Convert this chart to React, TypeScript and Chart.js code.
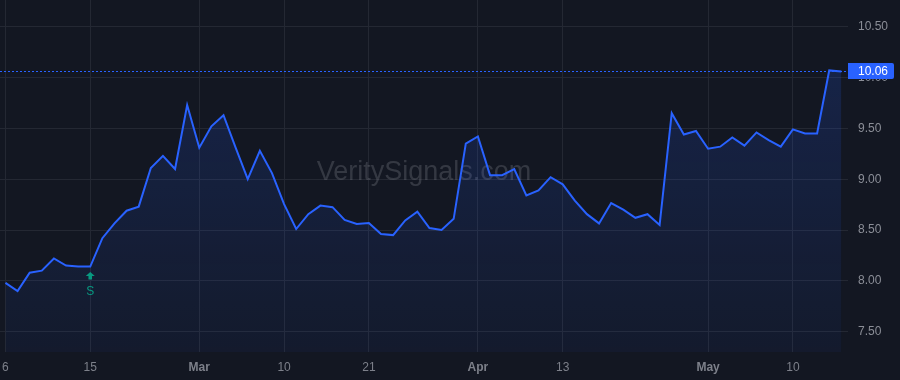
import React, { useEffect, useRef } from 'react';
import { Chart, registerables } from 'chart.js';

Chart.register(...registerables);

// Trading days (2023-02-06 .. 2023-05-16)
const dates = [
  '2023-02-06', '2023-02-07', '2023-02-08', '2023-02-09', '2023-02-10', '2023-02-13', '2023-02-14', '2023-02-15',
  '2023-02-16', '2023-02-17', '2023-02-21', '2023-02-22', '2023-02-23', '2023-02-24', '2023-02-27', '2023-02-28',
  '2023-03-01', '2023-03-02', '2023-03-03', '2023-03-06', '2023-03-07', '2023-03-08', '2023-03-09', '2023-03-10',
  '2023-03-13', '2023-03-14', '2023-03-15', '2023-03-16', '2023-03-17', '2023-03-20', '2023-03-21', '2023-03-22',
  '2023-03-23', '2023-03-24', '2023-03-27', '2023-03-28', '2023-03-29', '2023-03-30', '2023-03-31',
  '2023-04-03', '2023-04-04', '2023-04-05', '2023-04-06', '2023-04-10', '2023-04-11', '2023-04-12', '2023-04-13',
  '2023-04-14', '2023-04-17', '2023-04-18', '2023-04-19', '2023-04-20', '2023-04-21', '2023-04-24', '2023-04-25',
  '2023-04-26', '2023-04-27', '2023-04-28',
  '2023-05-01', '2023-05-02', '2023-05-03', '2023-05-04', '2023-05-05', '2023-05-08', '2023-05-09', '2023-05-10',
  '2023-05-11', '2023-05-12', '2023-05-15', '2023-05-16',
];

const prices = [
  7.98, 7.9, 8.08, 8.1, 8.22, 8.15, 8.14, 8.14, 8.42, 8.565,
  8.69, 8.73, 9.11, 9.23, 9.1, 9.73, 9.31, 9.52, 9.63, 9.31,
  9.0, 9.28, 9.06, 8.755, 8.51, 8.656, 8.74, 8.725, 8.6, 8.56,
  8.57, 8.46, 8.45, 8.595, 8.68, 8.52, 8.5, 8.61, 9.35, 9.42,
  9.04, 9.04, 9.1, 8.84, 8.89, 9.02, 8.95, 8.79, 8.656, 8.565,
  8.765, 8.7, 8.62, 8.656, 8.55, 9.65, 9.44, 9.475, 9.3, 9.32,
  9.41, 9.33, 9.46, 9.385, 9.32, 9.49, 9.45, 9.45, 10.07, 10.06,
];

const xTickIndex = [0, 7, 16, 23, 30, 39, 46, 58, 65];
const xTickLabels = ['6', '15', 'Mar', '10', '21', 'Apr', '13', 'May', '10'];
const xTickIsMonth = [false, false, true, false, false, true, false, true, false];
const yTicks = [7.5, 8.0, 8.5, 9.0, 9.5, 10.0, 10.5];

const lastPriceLabel = '10.06';
const signalIndex = 7;
const signalLabel = 'S';
const watermark = 'VeritySignals.com';

const BG = '#131722';
const BLUE = '#2962ff';
const GREEN = '#089981';
const GRID = '#242833';
const FONT = '"Liberation Sans", Arial, sans-serif';

const overlayPlugin = {
  id: 'overlay',
  beforeDatasetsDraw(chart: any) {
    const { ctx, chartArea, scales } = chart;
    ctx.save();
    ctx.font = `27px ${FONT}`;
    ctx.fillStyle = 'rgba(120,123,134,0.33)';
    ctx.textAlign = 'center';
    ctx.textBaseline = 'alphabetic';
    ctx.fillText(watermark, (chartArea.left + chartArea.right) / 2, chartArea.top + 180);
    // last price dashed line
    const py = scales.y.getPixelForValue(prices[prices.length - 1]);
    ctx.strokeStyle = BLUE;
    ctx.lineWidth = 1;
    ctx.setLineDash([2, 2]);
    ctx.beginPath();
    ctx.moveTo(chartArea.left, Math.round(py) + 0.5);
    ctx.lineTo(chartArea.right, Math.round(py) + 0.5);
    ctx.stroke();
    ctx.restore();
  },
  afterDatasetsDraw(chart: any) {
    const { ctx, scales } = chart;
    const px = scales.x.getPixelForValue(signalIndex);
    const py = scales.y.getPixelForValue(prices[signalIndex]);
    ctx.save();
    ctx.fillStyle = GREEN;
    ctx.beginPath();
    ctx.moveTo(px, py + 5.5);
    ctx.lineTo(px + 4.5, py + 9.5);
    ctx.lineTo(px + 1.8, py + 9.5);
    ctx.lineTo(px + 1.8, py + 13);
    ctx.lineTo(px - 1.8, py + 13);
    ctx.lineTo(px - 1.8, py + 9.5);
    ctx.lineTo(px - 4.5, py + 9.5);
    ctx.closePath();
    ctx.fill();
    ctx.font = `12px ${FONT}`;
    ctx.textAlign = 'center';
    ctx.textBaseline = 'middle';
    ctx.fillText(signalLabel, px, py + 25);
    ctx.restore();
  },
  afterDraw(chart: any) {
    const { ctx, chartArea, scales } = chart;
    const py = Math.round(scales.y.getPixelForValue(prices[prices.length - 1]));
    ctx.save();
    ctx.fillStyle = BLUE;
    ctx.beginPath();
    if (ctx.roundRect) {
      ctx.roundRect(chartArea.right, py - 8, 46, 16, [0, 2, 2, 0]);
    } else {
      ctx.rect(chartArea.right, py - 8, 46, 16);
    }
    ctx.fill();
    ctx.fillStyle = '#ffffff';
    ctx.font = `12px ${FONT}`;
    ctx.textAlign = 'left';
    ctx.textBaseline = 'middle';
    ctx.fillText(lastPriceLabel, chartArea.right + 10, py + 0.5);
    ctx.restore();
  },
};

export default function App() {
  const ref = useRef<HTMLCanvasElement | null>(null);

  useEffect(() => {
    const canvas = ref.current;
    if (!canvas) return;
    const chart = new Chart(canvas, {
      type: 'line',
      data: {
        datasets: [
          {
            label: 'Price',
            data: prices.map((v, i) => ({ x: i, y: v, d: dates[i] })),
            borderColor: BLUE,
            borderWidth: 2,
            pointRadius: 0,
            tension: 0,
            fill: 'start',
            backgroundColor: (c: any) => {
              const area = c.chart.chartArea;
              if (!area) return 'rgba(41,98,255,0.1)';
              const g = c.chart.ctx.createLinearGradient(0, area.top, 0, area.bottom);
              g.addColorStop(0, 'rgba(41,98,255,0.2)');
              g.addColorStop(1, 'rgba(41,98,255,0.05)');
              return g;
            },
          },
        ],
      },
      options: {
        animation: false,
        responsive: false,
        devicePixelRatio: 1,
        layout: { padding: 0 },
        plugins: { legend: { display: false }, tooltip: { enabled: false } },
        scales: {
          x: {
            type: 'linear',
            min: -0.45,
            max: 69.55,
            grid: { color: GRID, drawTicks: false, lineWidth: 1 },
            border: { display: false },
            afterBuildTicks: (s: any) => {
              s.ticks = xTickIndex.map((v) => ({ value: v }));
            },
            afterFit: (s: any) => {
              s.height = 28;
              s.paddingLeft = 0;
              s.paddingRight = 0;
            },
            ticks: {
              autoSkip: false,
              maxRotation: 0,
              padding: 8,
              color: '#7d808a',
              font: (c: any) => ({
                family: FONT,
                size: 12,
                weight: xTickIsMonth[xTickIndex.indexOf(c.tick?.value)] ? 'bold' : 'normal',
              }),
              callback: (v: any) => {
                const k = xTickIndex.indexOf(v);
                return k >= 0 ? xTickLabels[k] : '';
              },
            },
          },
          y: {
            type: 'linear',
            position: 'right',
            min: 7.3,
            max: 10.763,
            grid: { color: GRID, drawTicks: false, lineWidth: 1 },
            border: { display: false },
            afterBuildTicks: (s: any) => {
              s.ticks = yTicks.map((v) => ({ value: v }));
            },
            afterFit: (s: any) => {
              s.width = 52;
              s.paddingTop = 0;
              s.paddingBottom = 0;
            },
            ticks: {
              padding: 10,
              color: '#8b8e97',
              font: { family: FONT, size: 12 },
              callback: (v: any) => Number(v).toFixed(2),
            },
          },
        },
      },
      plugins: [overlayPlugin],
    });
    return () => chart.destroy();
  }, []);

  return (
    <div style={{ position: 'absolute', left: 0, top: 0, width: 900, height: 380, background: BG }}>
      <canvas ref={ref} width={900} height={380} style={{ display: 'block', width: 900, height: 380 }} />
    </div>
  );
}
